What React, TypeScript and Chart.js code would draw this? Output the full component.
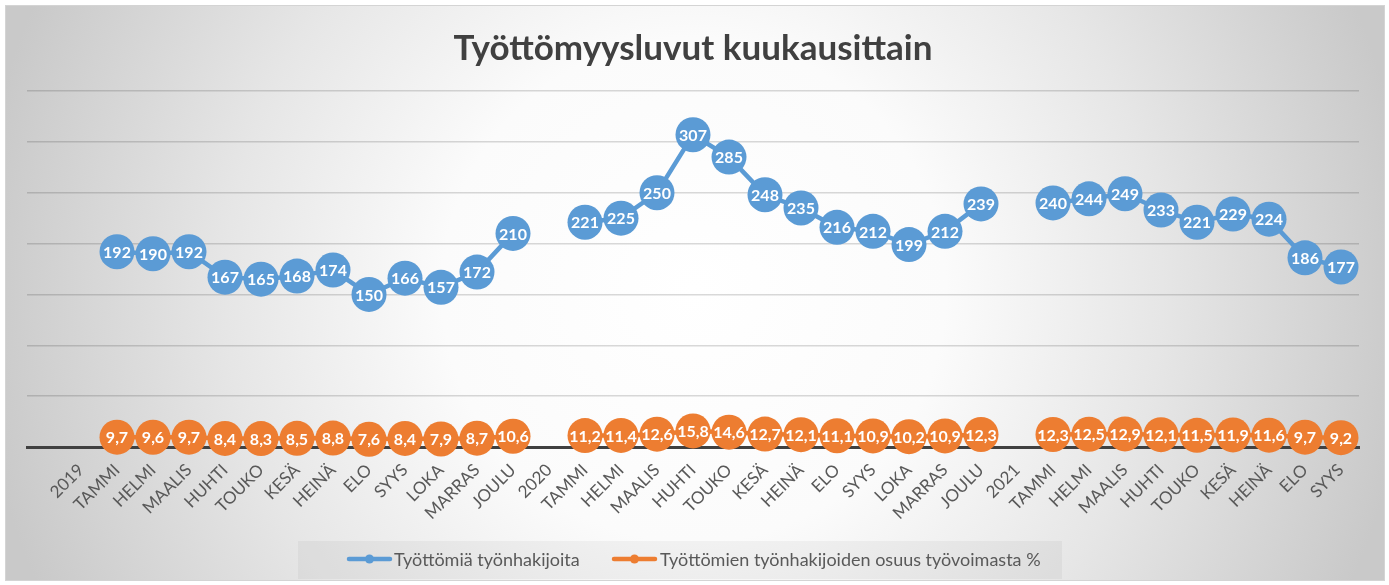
import React, { useEffect, useRef } from 'react';
import { Chart, registerables } from 'chart.js';

Chart.register(...registerables);

const categories = [
  '', '2019',
  'TAMMI', 'HELMI', 'MAALIS', 'HUHTI', 'TOUKO', 'KESÄ', 'HEINÄ', 'ELO', 'SYYS', 'LOKA', 'MARRAS', 'JOULU',
  '2020',
  'TAMMI', 'HELMI', 'MAALIS', 'HUHTI', 'TOUKO', 'KESÄ', 'HEINÄ', 'ELO', 'SYYS', 'LOKA', 'MARRAS', 'JOULU',
  '2021',
  'TAMMI', 'HELMI', 'MAALIS', 'HUHTI', 'TOUKO', 'KESÄ', 'HEINÄ', 'ELO', 'SYYS',
];

const jobseekers = [
  null, null,
  192, 190, 192, 167, 165, 168, 174, 150, 166, 157, 172, 210,
  null,
  221, 225, 250, 307, 285, 248, 235, 216, 212, 199, 212, 239,
  null,
  240, 244, 249, 233, 221, 229, 224, 186, 177,
];

const sharePercent = [
  null, null,
  9.7, 9.6, 9.7, 8.4, 8.3, 8.5, 8.8, 7.6, 8.4, 7.9, 8.7, 10.6,
  null,
  11.2, 11.4, 12.6, 15.8, 14.6, 12.7, 12.1, 11.1, 10.9, 10.2, 10.9, 12.3,
  null,
  12.3, 12.5, 12.9, 12.1, 11.5, 11.9, 11.6, 9.7, 9.2,
];

const seriesLabels = ['Työttömiä työnhakijoita', 'Työttömien työnhakijoiden osuus työvoimasta %'];
const titleText = 'Työttömyysluvut kuukausittain';
const yMin = 0;
const yMax = 350;
const yStep = 50;

const FONT = 'Lato, "Noto Sans", sans-serif';
const BLUE = '#5B9BD5';
const ORANGE = '#ED7D31';

const backgroundPlugin = {
  id: 'bgFrame',
  beforeDraw(chart: any) {
    const { ctx, width, height } = chart;
    ctx.save();
    ctx.fillStyle = '#ffffff';
    ctx.fillRect(0, 0, width, height);
    const g = ctx.createRadialGradient(694, 290, 0, 694, 290, 720);
    g.addColorStop(0, '#ffffff');
    g.addColorStop(0.35, '#fbfbfb');
    g.addColorStop(0.65, '#e6e6e6');
    g.addColorStop(1, '#c9c9c9');
    ctx.fillStyle = g;
    ctx.fillRect(5.5, 5.5, 1379, 575);
    ctx.strokeStyle = '#d4d4d4';
    ctx.lineWidth = 1;
    ctx.strokeRect(5.5, 5.5, 1379, 575);
    ctx.restore();
  },
};

const valueLabelPlugin = {
  id: 'valueLabels',
  afterDatasetsDraw(chart: any) {
    const { ctx } = chart;
    ctx.save();
    ctx.fillStyle = '#ffffff';
    ctx.font = `bold 16px ${FONT}`;
    ctx.textAlign = 'center';
    ctx.textBaseline = 'middle';
    chart.data.datasets.forEach((ds: any, di: number) => {
      const meta = chart.getDatasetMeta(di);
      meta.data.forEach((pt: any, i: number) => {
        const v = ds.data[i];
        if (v === null || v === undefined) return;
        const txt = di === 0 ? String(v) : v.toFixed(1).replace('.', ',');
        ctx.fillText(txt, pt.x, pt.y + 1);
      });
    });
    ctx.restore();
  },
};

const titleLegendPlugin = {
  id: 'titleLegend',
  afterDraw(chart: any) {
    const { ctx } = chart;
    ctx.save();
    // title
    ctx.fillStyle = '#404040';
    ctx.font = `bold 35px ${FONT}`;
    ctx.textAlign = 'center';
    ctx.textBaseline = 'alphabetic';
    ctx.fillText(titleText, 693, 60);

    // legend box
    ctx.fillStyle = 'rgba(0,0,0,0.04)';
    ctx.fillRect(298, 541, 764, 38);
    const items = [
      { x0: 349, x1: 390, tx: 394 },
      { x0: 614, x1: 655, tx: 660 },
    ];
    ctx.font = `18px ${FONT}`;
    ctx.textAlign = 'left';
    ctx.textBaseline = 'middle';
    chart.data.datasets.forEach((ds: any, i: number) => {
      const it = items[i];
      const cy = 559;
      ctx.strokeStyle = ds.borderColor;
      ctx.lineWidth = 4.5;
      ctx.lineCap = 'round';
      ctx.beginPath();
      ctx.moveTo(it.x0, cy);
      ctx.lineTo(it.x1, cy);
      ctx.stroke();
      ctx.fillStyle = ds.backgroundColor;
      ctx.beginPath();
      ctx.arc((it.x0 + it.x1) / 2, cy, 4.5, 0, Math.PI * 2);
      ctx.fill();
      ctx.fillStyle = '#595959';
      ctx.fillText(ds.label, it.tx, cy + 1);
    });
    ctx.restore();
  },
};

export default function App() {
  const ref = useRef<HTMLCanvasElement | null>(null);

  useEffect(() => {
    if (!ref.current) return;
    const chart = new Chart(ref.current, {
      type: 'line',
      data: {
        labels: categories,
        datasets: [
          {
            label: seriesLabels[0],
            data: jobseekers,
            borderColor: BLUE,
            backgroundColor: BLUE,
            borderWidth: 4.5,
            pointRadius: 17.5,
            pointBorderWidth: 0,
            pointBackgroundColor: BLUE,
            spanGaps: false,
            clip: false,
          },
          {
            label: seriesLabels[1],
            data: sharePercent,
            borderColor: ORANGE,
            backgroundColor: ORANGE,
            borderWidth: 4.5,
            pointRadius: 17.5,
            pointBorderWidth: 0,
            pointBackgroundColor: ORANGE,
            spanGaps: false,
            clip: false,
          },
        ],
      },
      options: {
        responsive: false,
        animation: false,
        events: [],
        layout: { padding: { left: 27, right: 30, top: 91, bottom: 0 } },
        plugins: {
          legend: { display: false },
          title: { display: false },
          tooltip: { enabled: false },
        },
        scales: {
          x: {
            type: 'category',
            offset: true,
            grid: { display: false, drawTicks: false },
            border: { display: true, color: '#404040', width: 3 },
            ticks: {
              autoSkip: false,
              maxRotation: 45,
              minRotation: 45,
              padding: 13,
              color: '#595959',
              font: { family: FONT, size: 17 },
            },
            afterFit: (s: any) => {
              s.height = 138;
            },
          },
          y: {
            min: yMin,
            max: yMax,
            ticks: { display: false, stepSize: yStep },
            grid: { color: 'rgba(0,0,0,0.15)', lineWidth: 1.5, drawTicks: false },
            border: { display: false },
            afterFit: (s: any) => {
              s.width = 0;
            },
          },
        },
      },
      plugins: [backgroundPlugin, valueLabelPlugin, titleLegendPlugin],
    } as any);
    return () => chart.destroy();
  }, []);

  return (
    <div style={{ position: 'absolute', left: 0, top: 0, width: 1389, height: 585 }}>
      <canvas ref={ref} width={1389} height={585} style={{ display: 'block' }} />
    </div>
  );
}
